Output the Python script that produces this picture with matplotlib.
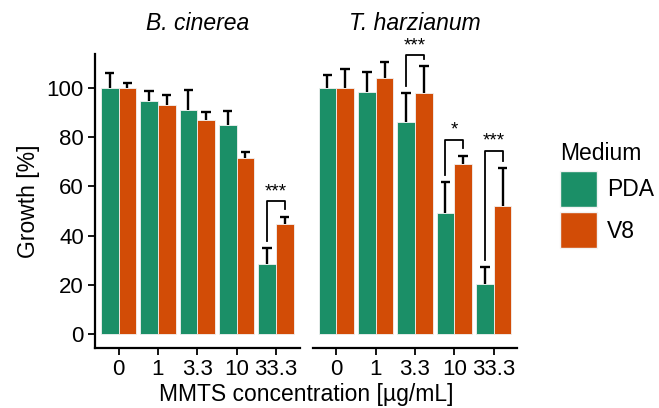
import numpy as np
import matplotlib.pyplot as plt
from matplotlib.patches import Patch

plt.rcParams['font.family'] = ['Liberation Sans', 'DejaVu Sans']

### --- data --- ###
conc = ["0", "1", "3.3", "10", "33.3"]
species = ["B. cinerea", "T. harzianum"]

bc_pda = [100, 94.6, 91.2, 85.1, 28.6]
bc_pda_sd = [6.2, 4.1, 7.8, 5.5, 6.2]
bc_v8 = [100, 92.9, 87.0, 71.5, 44.6]
bc_v8_sd = [2.2, 4.1, 3.2, 2.3, 3.0]

th_pda = [100, 98.4, 86.3, 49.0, 20.3]
th_pda_sd = [5.3, 8.2, 11.5, 12.7, 6.8]
th_v8 = [100, 104.2, 97.8, 69.0, 52.0]
th_v8_sd = [7.7, 6.5, 11.1, 3.4, 15.4]

# significance PDA vs V8: (concentration index, label, bracket height)
bc_sig = [(4, "***", 54.0)]
th_sig = [(2, "***", 113.3), (3, "*", 79.0), (4, "***", 74.5)]

col_pda = "#1B8F67"
col_v8 = "#D24C06"
fs = 16.5

W, H = 659, 408
fig = plt.figure(figsize=(W/100, H/100), dpi=100)

def px_axes(x0, y0, x1, y1):
    return fig.add_axes([x0/W, 1 - y1/H, (x1-x0)/W, (y1-y0)/H])

ax1 = px_axes(95, 54, 299.5, 347.7)
ax2 = px_axes(312.7, 54, 517.3, 347.7)

def panel(ax, title, pda, pda_sd, v8, v8_sd, sig):
    x = np.arange(len(conc))
    bw = 0.45
    ax.bar(x - bw/2, pda, width=bw, color=col_pda, edgecolor="#f2f2f2", linewidth=0.6, zorder=2)
    ax.bar(x + bw/2, v8, width=bw, color=col_v8, edgecolor="#f2f2f2", linewidth=0.6, zorder=2)

    # upper error bars only
    for xs, m, s in [(x - bw/2, pda, pda_sd), (x + bw/2, v8, v8_sd)]:
        m = np.array(m); s = np.array(s)
        ax.vlines(xs, m, m + s, color="black", linewidth=1.7, zorder=3)
        ax.hlines(m + s, xs - 0.12, xs + 0.12, color="black", linewidth=1.7, zorder=3)

    # significance brackets, legs stop a little above the error bars
    for i, lab, top in sig:
        t1 = pda[i] + pda_sd[i]
        t2 = v8[i] + v8_sd[i]
        xl, xr = i - bw/2, i + bw/2
        ax.plot([xl, xl, xr, xr], [t1 + 3, top, top, t2 + 3], color="black",
                linewidth=1.3, clip_on=False, zorder=4)
        ax.text(i, top + 0.3, lab, ha="center", va="bottom", fontsize=13.5)

    ax.set_xlim(-0.6, len(conc) - 0.4)
    ax.set_ylim(-5.6, 113.8)
    ax.set_xticks(x)
    ax.set_xticklabels(conc, fontsize=16)
    ax.set_title(title, fontsize=fs, style="italic", pad=17)
    for sp in ["top", "right"]:
        ax.spines[sp].set_visible(False)
    ax.spines["bottom"].set_linewidth(1.6)
    ax.spines["left"].set_linewidth(1.6)
    ax.tick_params(axis="both", length=5, width=1.3, labelsize=16, pad=3)

panel(ax1, species[0], bc_pda, bc_pda_sd, bc_v8, bc_v8_sd, bc_sig)
panel(ax2, species[1], th_pda, th_pda_sd, th_v8, th_v8_sd, th_sig)

ax1.set_yticks([0, 20, 40, 60, 80, 100])
ax1.set_ylabel("Growth [%]", fontsize=fs, labelpad=5)
ax2.spines["left"].set_visible(False)
ax2.set_yticks([])

fig.text(306/W, 1 - 394/H, "MMTS concentration [µg/mL]", ha="center", va="center", fontsize=fs)

handles = [Patch(facecolor=col_pda, edgecolor="#f2f2f2"), Patch(facecolor=col_v8, edgecolor="#f2f2f2")]
fig.legend(handles, ["PDA", "V8"], title="Medium", loc="upper left",
           bbox_to_anchor=(537/W, 1 - 119/H), frameon=False, fontsize=fs, title_fontsize=fs,
           handlelength=1.61, handleheight=2.04, handletextpad=0.45, labelspacing=0.25,
           borderaxespad=0, borderpad=1.0, alignment="left")

fig.savefig("out.png", dpi=100)
